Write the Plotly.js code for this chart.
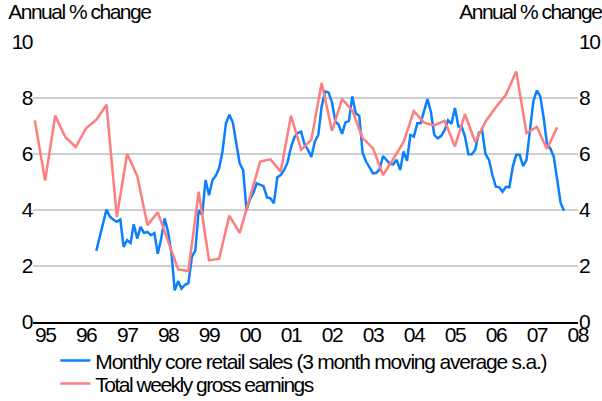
<!DOCTYPE html>
<html>
<head>
<meta charset="utf-8">
<script src="https://cdn.plot.ly/plotly-3.0.1.min.js"></script>
<style>
html,body{margin:0;padding:0;background:#fff;}
#chart{width:602px;height:401px;}
#chart text{letter-spacing:-1.5px;}
#chart text.legendtext{letter-spacing:-1.2px;}
</style>
</head>
<body>
<div id="chart"></div>
<script>
// Total weekly gross earnings, quarterly, first quarter = Q4 1994
const earningsStart = [1994, 10];
const earnings = [7.2, 5.05, 7.37, 6.6, 6.25, 6.92, 7.22, 7.76, 3.75, 6.0, 5.22, 3.46, 3.92, 2.9, 1.88, 1.82,
  4.65, 2.2, 2.26, 3.8, 3.18, 4.45, 5.73, 5.81, 5.37, 7.37, 6.15, 6.5, 8.54, 6.83, 7.96, 7.56,
  6.57, 6.21, 5.25, 5.82, 6.42, 7.53, 7.12, 7.02, 7.19, 6.27, 7.42, 6.42, 7.16, 7.67, 8.12, 8.95,
  6.75, 6.97, 6.18, 6.95];
// Monthly core retail sales (3 month moving average s.a.), first month = April 1996
const retailStart = [1996, 4];
const retail = [2.54, 3.0, 3.5, 4.02, 3.76, 3.65, 3.58, 3.66, 2.68, 2.92, 2.82, 3.49, 2.98, 3.4, 3.18, 3.22,
  3.1, 3.18, 2.44, 2.98, 3.7, 3.22, 2.44, 1.13, 1.46, 1.19, 1.33, 1.39, 2.32, 2.56, 4.0, 3.82,
  5.07, 4.53, 5.07, 5.22, 5.49, 6.09, 7.1, 7.4, 7.13, 6.39, 5.67, 5.43, 4.0, 4.38, 4.62, 4.95,
  4.9, 4.85, 4.45, 4.42, 4.24, 5.17, 5.25, 5.43, 5.7, 6.25, 6.6, 6.75, 6.8, 6.35, 6.15, 5.89,
  6.44, 6.68, 7.7, 8.24, 8.2, 7.85, 7.15, 7.05, 6.72, 7.13, 7.18, 8.06, 7.45, 7.37, 6.05, 5.73,
  5.53, 5.31, 5.33, 5.45, 5.93, 5.79, 5.65, 5.63, 5.79, 5.43, 6.09, 5.76, 6.68, 6.62, 7.1, 7.1,
  7.55, 7.96, 7.5, 6.68, 6.56, 6.65, 6.85, 7.2, 7.08, 7.64, 6.98, 6.98, 6.62, 5.99, 5.99, 6.15,
  6.75, 6.83, 5.99, 5.79, 5.25, 4.83, 4.81, 4.65, 4.83, 4.81, 5.55, 5.97, 5.97, 5.57, 5.79, 6.75,
  7.88, 8.27, 8.06, 7.34, 6.39, 6.2, 5.9, 5.1, 4.25, 3.97];
const seriesNames = ['Monthly core retail sales (3 month moving average s.a.)', 'Total weekly gross earnings'];
const axisTitle = 'Annual % change';
const yTicks = [0, 2, 4, 6, 8, 10];

function dates(start, n, stepMonths) {
  const out = [];
  for (let i = 0; i < n; i++) {
    const m = start[1] - 1 + i * stepMonths;
    const y = start[0] + Math.floor(m / 12);
    const mm = (m % 12) + 1;
    out.push(y + '-' + String(mm).padStart(2, '0') + '-01');
  }
  return out;
}

const FONT = '"Liberation Sans", Arial, sans-serif';

const traces = [
  {x: dates(retailStart, retail.length, 1), y: retail, name: seriesNames[0], type: 'scatter', mode: 'lines',
   line: {color: '#0a80ff', width: 2.5}, legend: 'legend'},
  {x: dates(earningsStart, earnings.length, 3), y: earnings, name: seriesNames[1], type: 'scatter', mode: 'lines',
   line: {color: '#ff7d7d', width: 2.5}, legend: 'legend2'},
  {x: ['1995-01-01'], y: [0], yaxis: 'y2', showlegend: false, hoverinfo: 'skip', mode: 'markers', marker: {opacity: 0}}
];

const legendBase = {x: 0.041, xanchor: 'left', yanchor: 'middle', bgcolor: 'rgba(0,0,0,0)',
                    font: {family: FONT, size: 21}, borderwidth: 0};

const layout = {
  width: 602, height: 401,
  margin: {l: 33, r: 24, t: 42, b: 79, autoexpand: false},
  paper_bgcolor: '#fff', plot_bgcolor: '#fff',
  font: {family: FONT, size: 21, color: '#000'},
  showlegend: true,
  legend: Object.assign({}, legendBase, {y: -0.139}),
  legend2: Object.assign({}, legendBase, {y: -0.221}),
  xaxis: {type: 'date', range: ['1994-09-15', '2008-01-03'], tick0: '1995-01-01', dtick: 'M12', tickformat: '%y',
          showgrid: false, zeroline: false, showline: true, linecolor: '#000', linewidth: 1.5, ticks: '',
          tickfont: {family: FONT, size: 21}, ticklabelstandoff: -7, fixedrange: true},
  yaxis: {range: [0, 10], tickvals: yTicks, showgrid: true, gridcolor: '#cfcfcf', gridwidth: 1.5, zeroline: false,
          showline: false, ticks: '', tickfont: {family: FONT, size: 21}, ticklabelstandoff: 0},
  yaxis2: {range: [0, 10], tickvals: yTicks, overlaying: 'y', side: 'right', showgrid: false, zeroline: false,
           showline: false, ticks: '', tickfont: {family: FONT, size: 21}},
  annotations: [
    {text: axisTitle, xref: 'paper', yref: 'paper', x: -0.0705, y: 1.06, xanchor: 'left', yanchor: 'bottom', showarrow: false,
     font: {family: FONT, size: 21}},
    {text: axisTitle, xref: 'paper', yref: 'paper', x: 1.068, y: 1.06, xanchor: 'right', yanchor: 'bottom', showarrow: false,
     font: {family: FONT, size: 21}}
  ]
};

Plotly.newPlot('chart', traces, layout, {displayModeBar: false, staticPlot: true});
</script>
</body>
</html>
